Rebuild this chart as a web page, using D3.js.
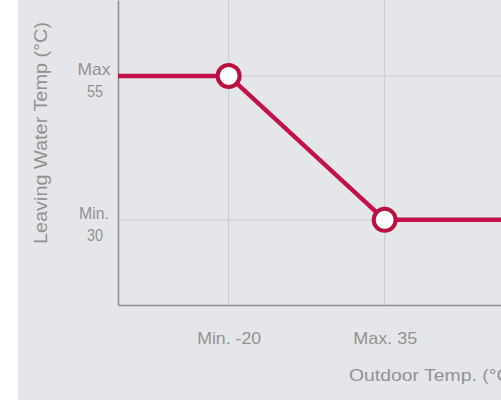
<!DOCTYPE html>
<html>
<head>
<meta charset="utf-8">
<script src="https://cdn.jsdelivr.net/npm/d3@7"></script>
<style>
  body { margin: 0; background: #fff; }
  text { font-family: "Liberation Sans", sans-serif; fill: #929292; }
</style>
</head>
<body>
<div id="chart"></div>
<script>
// outdoor temp (x) vs leaving water temp (y)
let outdoorTemps = [-59, -20, 35, 77];
let waterTemps = [55, 55, 30, 30];
let pointTemps = [-20, 35];
let pointWater = [55, 30];
let xTickValues = [-20, 35];
let xTickLabels = ["Min. -20", "Max. 35"];
let yTickValues = [55, 30];
let yTickLabels = [["Max", "55"], ["Min.", "30"]];

let width = 501, height = 402;
let plotLeft = 118, plotBottom = 305, plotRight = 501, plotTop = 0;

let svg = d3.select("#chart").append("svg").attr("width", width).attr("height", height);

// panel background
svg.append("rect").attr("x", 18).attr("y", 0).attr("width", width - 18).attr("height", 400).attr("fill", "#e5e6e9");

let x = d3.scaleLinear().domain([-59, 76]).range([plotLeft, plotRight]);
let y = d3.scaleLinear().domain([15.2, 68.2]).range([plotBottom, plotTop]);

// grid
let grid = svg.append("g");
grid.selectAll(".vg").data(xTickValues).enter().append("line")
    .attr("x1", d => x(d)).attr("x2", d => x(d)).attr("y1", plotTop).attr("y2", plotBottom)
    .attr("stroke", "#cbcbd0").attr("stroke-width", 1);
grid.selectAll(".hg").data(yTickValues).enter().append("line")
    .attr("x1", plotLeft).attr("x2", plotRight).attr("y1", d => y(d)).attr("y2", d => y(d))
    .attr("stroke", "#cbcbd0").attr("stroke-width", 1);

// axes
let xAxis = svg.append("g").attr("transform", `translate(0, ${plotBottom})`)
    .call(d3.axisBottom(x).tickValues(xTickValues).tickSize(0).tickFormat((d, i) => xTickLabels[i]));
xAxis.select(".domain").attr("stroke", "#8c8c8c").attr("stroke-width", 1.5);
xAxis.selectAll("text").attr("dy", 0).attr("y", 39).attr("font-size", 17)
    .attr("textLength", 64).attr("lengthAdjust", "spacingAndGlyphs");

let yAxis = svg.append("g").attr("transform", `translate(${plotLeft}, 0)`)
    .call(d3.axisLeft(y).tickValues(yTickValues).tickSize(0).tickFormat(""));
yAxis.select(".domain").attr("stroke", "#8c8c8c").attr("stroke-width", 1.5);
yAxis.selectAll(".tick").each(function (d, i) {
    let g = d3.select(this);
    g.append("text").attr("text-anchor", "middle").attr("font-size", 17)
        .attr("x", -24).attr("y", -1).attr("textLength", i === 0 ? 33 : 30).attr("lengthAdjust", "spacingAndGlyphs")
        .text(yTickLabels[i][0]);
    g.append("text").attr("text-anchor", "middle").attr("font-size", 17)
        .attr("x", -23).attr("y", 21).attr("textLength", 16).attr("lengthAdjust", "spacingAndGlyphs")
        .text(yTickLabels[i][1]);
});

// axis titles
svg.append("text").attr("transform", `translate(47, 133) rotate(-90)`).attr("text-anchor", "middle")
    .attr("font-size", 18).attr("textLength", 222).attr("lengthAdjust", "spacingAndGlyphs")
    .text("Leaving Water Temp (°C)");
svg.append("text").attr("x", 349).attr("y", 381).attr("font-size", 17)
    .attr("textLength", 168).attr("lengthAdjust", "spacingAndGlyphs")
    .text("Outdoor Temp. (°C)");

// line + points
let lineData = outdoorTemps.map((t, i) => [t, waterTemps[i]]);
svg.append("path").datum(lineData)
    .attr("d", d3.line().x(d => x(d[0])).y(d => y(d[1])))
    .attr("fill", "none").attr("stroke", "#c2124b").attr("stroke-width", 4.5);

svg.selectAll(".pt").data(pointTemps).enter().append("circle")
    .attr("cx", d => x(d)).attr("cy", (d, i) => y(pointWater[i])).attr("r", 11)
    .attr("fill", "#fff").attr("stroke", "#b8103f").attr("stroke-width", 4);
</script>
</body>
</html>
